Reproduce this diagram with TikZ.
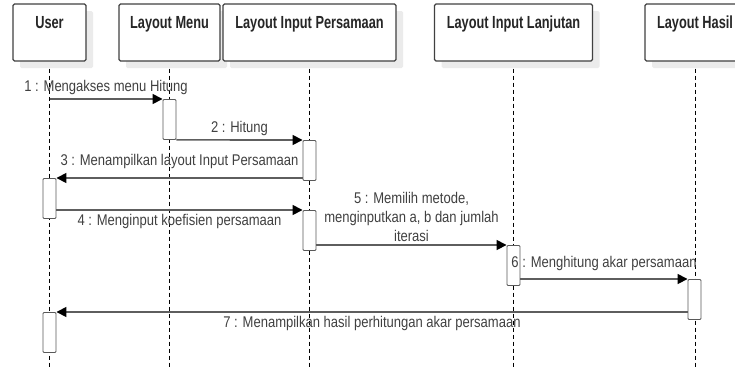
\documentclass[tikz,border=0pt]{standalone}
\usepackage{fontspec}
\setmainfont{Liberation Sans}[FakeStretch=0.84]
\newfontfamily\headfont{Liberation Sans}[FakeStretch=0.73]
\usetikzlibrary{positioning, arrows.meta, shadows}

\definecolor{msgline}{HTML}{5E5E5E}
\definecolor{msgtext}{HTML}{404040}

\tikzset{
    head/.style={draw=black!75, line width=1.1pt, rounded corners=1.5pt, fill=white,
        minimum width=#1, inner ysep=0pt, text height=24pt, text depth=33pt,
        font=\fontsize{17.5}{21}\headfont\bfseries, text=black!85,
        drop shadow={shadow xshift=7pt, shadow yshift=-7pt, fill=black!8, opacity=1}},
    life/.style={black, line width=0.8pt, dash pattern=on 4pt off 3pt},
    act/.style={draw=black!65, line width=0.9pt, fill=white, rounded corners=1pt,
        minimum width=13pt, minimum height=40pt, inner sep=0pt, anchor=north},
    msg/.style={msgline, line width=1.6pt, -{Triangle[length=10pt, width=10pt, color=black]}},
    lbl/.style={text=msgtext, inner sep=3pt}
}

\begin{document}
\begin{tikzpicture}[x=1pt, y=-1pt, every node/.style={font=\fontsize{15.5}{19}\selectfont}]
        \useasboundingbox (0,0) rectangle (735,368);
        % lifeline heads
        \node[head=73]  (user)   at (49.5,32.5)  {User};
        \node[head=101] (menu)   at (169.5,32.5) {Layout Menu};
        \node[head=173] (inpers) at (309.5,32.5) {Layout Input Persamaan};
        \node[head=158] (inlanj) at (513.5,32.5) {Layout Input Lanjutan};
        \node[head=100] (hasil)  at (695,32.5)   {Layout Hasil};
        \foreach \h in {user, menu, inpers, inlanj, hasil}
            \draw[life] ([yshift=-7pt]\h.south) -- (\h.south |- 0,368);
        % activations
        \node[act] (menuA)  at (169.5,99)  {};
        \node[act] (persA)  at (309.5,140) {};
        \node[act] (userA)  at (49.5,178)  {};
        \node[act] (persB)  at (309.5,210) {};
        \node[act] (lanjA)  at (513.5,245) {};
        \node[act] (hasilA) at (694.5,279) {};
        \node[act] (userB)  at (49.5,312)  {};
        % messages
        \coordinate (m1) at (user.south |- 0,99);
        \draw[msg] (m1) -- node[lbl, above] (t1) {1 : Mengakses menu Hitung} (menuA.north west);
        \draw[msg] (menuA.south east) -- node[lbl, above] (t2) {2 : Hitung} (persA.north west);
        \draw[msg] (persA.west |- userA.north) -- node[lbl, above, yshift=5pt] (t3) {3 : Menampilkan layout Input Persamaan} (userA.north east);
        \draw[msg] (userA.east |- persB.north) -- node[lbl, below] (t4) {4 : Menginput koefisien persamaan} (persB.north west);
        \draw[msg] (persB.east |- lanjA.north) -- node[lbl, above, align=center] (t5) {5 : Memilih metode,\\ menginputkan a, b dan jumlah\\ iterasi} (lanjA.north west);
        \draw[msg] (lanjA.east |- hasilA.north) -- node[lbl, above, yshift=4pt] (t6) {6 : Menghitung akar persamaan} (hasilA.north west);
        \draw[msg] (hasilA.west |- userB.north) -- node[lbl, below] (t7) {7 : Menampilkan hasil perhitungan akar persamaan} (userB.north east);
\end{tikzpicture}
\end{document}
